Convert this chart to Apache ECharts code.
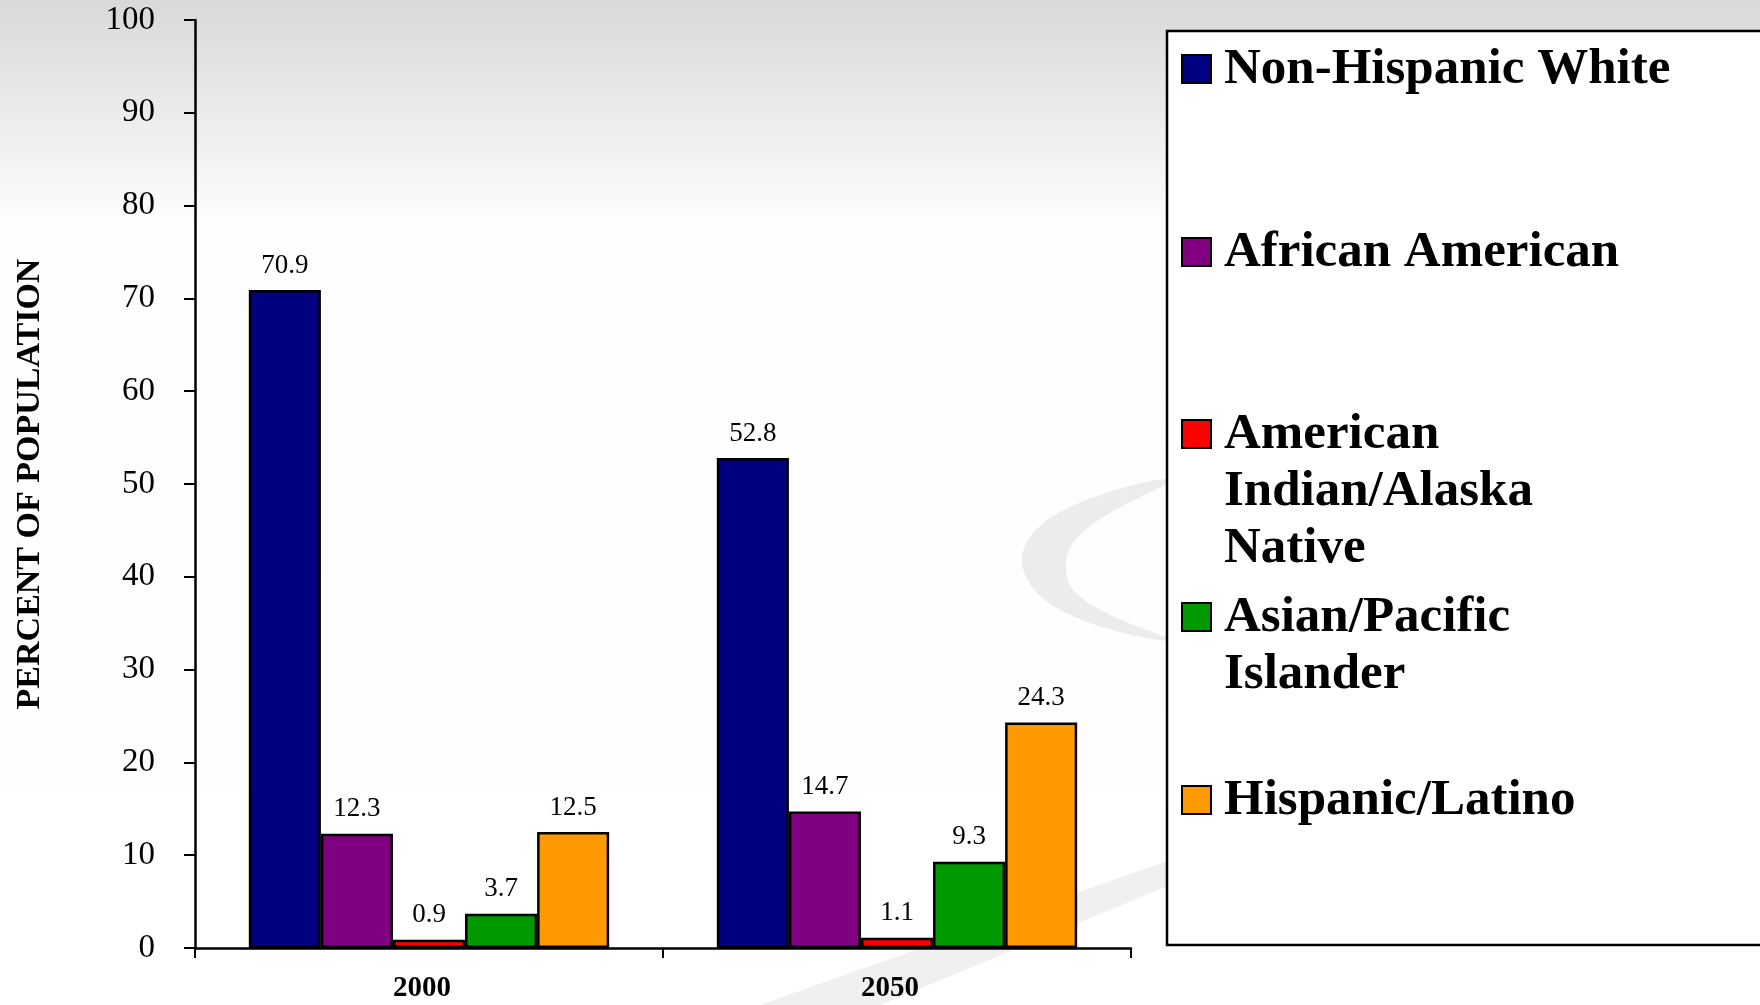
<!DOCTYPE html>
<html>
<head>
<meta charset="utf-8">
<title>Percent of population</title>
<script src="https://cdn.jsdelivr.net/npm/echarts@6/dist/echarts.min.js"></script>
<style>
  html, body { margin: 0; padding: 0; }
  #chart { width: 1760px; height: 1005px; }
</style>
</head>
<body>
<div id="chart"></div>
<script>
  // data
  var years = ['2000', '2050'];
  var groups = ['Non-Hispanic White', 'African American', 'American Indian/Alaska Native', 'Asian/Pacific Islander', 'Hispanic/Latino'];
  // legend text wraps like the original
  var legendLines = [
    ['Non-Hispanic White'],
    ['African American'],
    ['American', 'Indian/Alaska', 'Native'],
    ['Asian/Pacific', 'Islander'],
    ['Hispanic/Latino']
  ];
  var whiteVals = [70.9, 52.8];
  var blackVals = [12.3, 14.7];
  var indianVals = [0.9, 1.1];
  var asianVals = [3.7, 9.3];
  var hispanicVals = [12.5, 24.3];
  var yTicks = [0, 10, 20, 30, 40, 50, 60, 70, 80, 90, 100];

  var colors = ['#000080', '#800080', '#ff0000', '#009900', '#ff9900'];
  var allVals = [whiteVals, blackVals, indianVals, asianVals, hispanicVals];
  var serif = 'Liberation Serif';

  var chart = echarts.init(document.getElementById('chart'));

  var series = groups.map(function (name, i) {
    return {
      name: name,
      type: 'bar',
      data: allVals[i],
      barGap: '0%',
      barCategoryGap: '23%',
      itemStyle: { color: colors[i], borderColor: '#000', borderWidth: 2.5 },
      label: {
        show: true,
        position: 'top',
        distance: 11,
        color: '#000',
        fontFamily: serif,
        fontSize: 27
      },
      emphasis: { disabled: true }
    };
  });

  // legend box drawn by hand so wrapped lines keep the swatch on the first line
  var legendItems = [
    { type: 'rect', shape: { x: 1167, y: 31, width: 620, height: 914 },
      style: { fill: '#fff', stroke: '#000', lineWidth: 2.5 }, z: 10 }
  ];
  var rowY = [69, 252, 434, 617, 800];
  legendLines.forEach(function (lines, i) {
    legendItems.push({
      type: 'rect',
      shape: { x: 1182, y: rowY[i] - 14, width: 29, height: 28 },
      style: { fill: colors[i], stroke: '#000', lineWidth: 2 },
      z: 11
    });
    legendItems.push({
      type: 'text',
      x: 1224,
      y: rowY[i] - 28,
      style: {
        text: lines.join('\n'),
        fill: '#000',
        fontFamily: serif,
        fontWeight: 'bold',
        fontSize: 51,
        lineHeight: 57,
        verticalAlign: 'top'
      },
      z: 11
    });
  });

  chart.setOption({
    backgroundColor: {
      type: 'linear', x: 0, y: 0, x2: 0, y2: 1,
      colorStops: [
        { offset: 0, color: '#d9d9d9' },
        { offset: 0.22, color: '#fdfdfd' },
        { offset: 1, color: '#ffffff' }
      ]
    },
    animation: false,
    graphic: [
      // faint background swooshes
      { type: 'polygon', z: -1, silent: true,
        shape: { smooth: 0.4, points: [[1170, 480], [1060, 512], [1022, 560], [1060, 610], [1170, 640], [1075, 592], [1075, 540]] },
        style: { fill: '#ececec' } },
      { type: 'polygon', z: -1, silent: true,
        shape: { points: [[1170, 860], [760, 1005], [880, 1005], [1170, 885]] },
        style: { fill: '#f0f0f0' } }
    ].concat(legendItems),
    grid: { left: 195, right: 629, top: 20, bottom: 57 },
    xAxis: {
      type: 'category',
      data: years,
      axisLine: { lineStyle: { color: '#000', width: 2.5 } },
      axisTick: { show: true, length: 10, lineStyle: { color: '#000', width: 2 } },
      axisLabel: { color: '#000', fontFamily: serif, fontWeight: 'bold', fontSize: 29, margin: 26, padding: [0, 14, 0, 0] }
    },
    yAxis: {
      type: 'value',
      min: yTicks[0],
      max: yTicks[yTicks.length - 1],
      interval: 10,
      name: 'PERCENT OF POPULATION',
      nameLocation: 'middle',
      nameGap: 148,
      nameTextStyle: { color: '#000', fontFamily: serif, fontWeight: 'bold', fontSize: 34 },
      axisLine: { show: true, lineStyle: { color: '#000', width: 2.5 } },
      axisTick: { show: true, length: 11, lineStyle: { color: '#000', width: 2 } },
      axisLabel: { color: '#000', fontFamily: serif, fontSize: 33, margin: 40 },
      splitLine: { show: false }
    },
    series: series
  });
</script>
</body>
</html>
